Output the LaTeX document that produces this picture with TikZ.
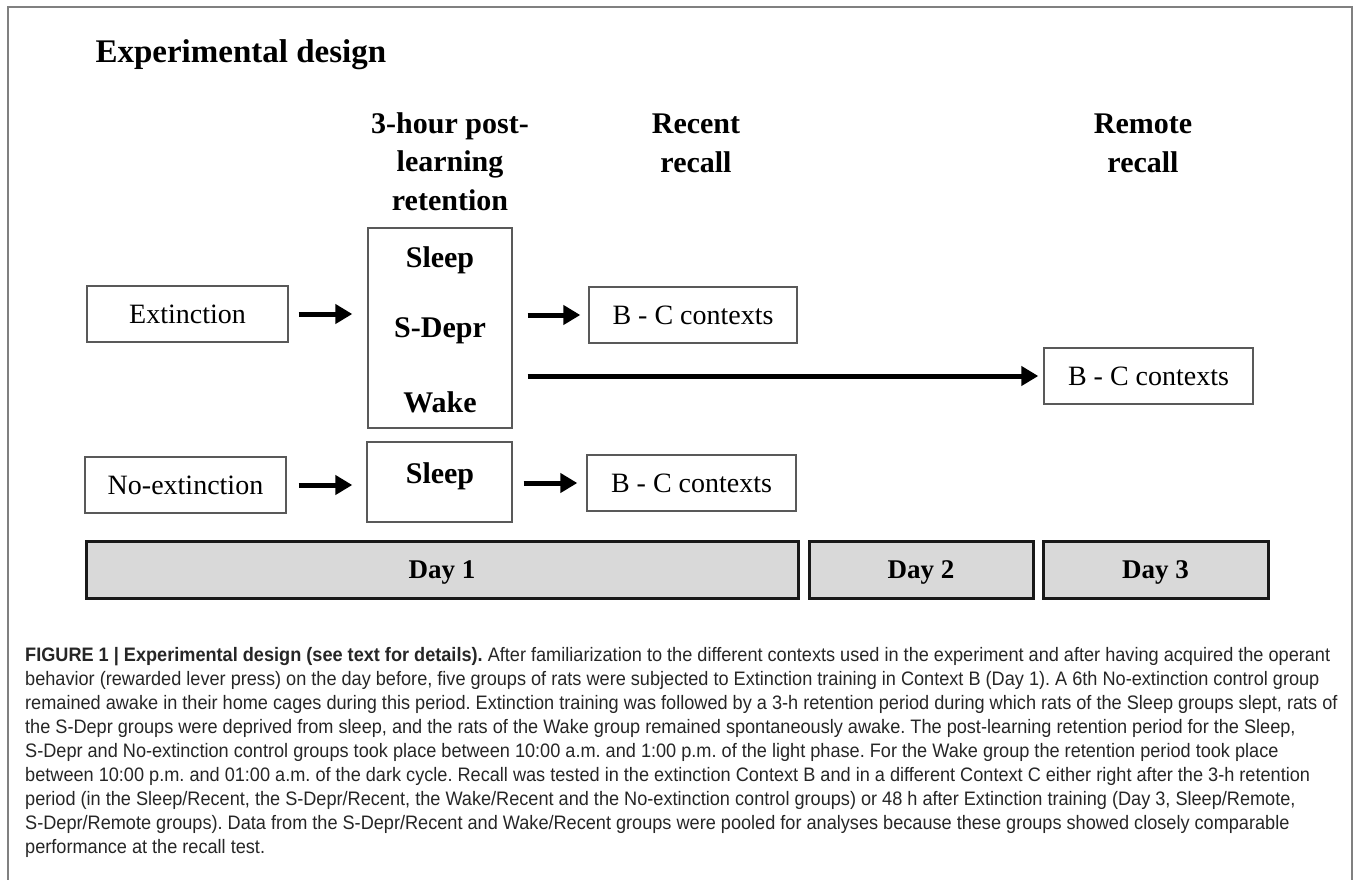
\documentclass[tikz,border=0pt]{standalone}
\usepackage{fontspec}
\setmainfont{Liberation Serif}
\newfontfamily\capfont[FakeStretch=0.93]{Liberation Sans}
\usetikzlibrary{arrows.meta}
\frenchspacing

\begin{document}
\begin{tikzpicture}[x=1pt, y=-1pt,
    every node/.style={font=\fontsize{28}{34}\selectfont},
    box/.style={rectangle, draw=black!65, line width=1.4pt, minimum height=56pt, inner sep=0pt},
    grp/.style={font=\fontsize{30}{36}\selectfont\bfseries, anchor=base},
    hdr/.style={font=\fontsize{30}{38.5}\selectfont\bfseries, align=center, anchor=base},
    day/.style={rectangle, draw=black!90, line width=3pt, fill=black!15, minimum height=57pt,
                text depth=0pt, font=\fontsize{27}{32}\selectfont\bfseries},
    e/.style={-{Triangle[length=17pt, width=19pt]}, line width=5pt},
  ]
  \useasboundingbox (0,0) rectangle (1354,879);
  \draw[black!50, line width=1.5pt] (8,885) -- (8,7) -- (1352,7) -- (1352,885);

  \node[font=\fontsize{33}{40}\selectfont\bfseries, anchor=base west] (title) at (92,62) {Experimental design};
  \node[hdr] (hret) at (450,210) {3-hour post-\\learning\\retention};
  \node[hdr] (hrec) at (696,172) {Recent\\recall};
  \node[hdr] (hrem) at (1143,172) {Remote\\recall};

  \node[box, minimum width=201pt] (ext) at (187.5,314) {Extinction};
  \node[box, minimum width=201pt] (noext) at (185.5,485) {No-extinction};
  \node[box, minimum width=144pt, minimum height=200pt] (ret) at (440,328) {};
  \node[grp] (sl) at (440,267) {Sleep};
  \node[grp] (sd) at (440,337) {S-Depr};
  \node[grp] (wk) at (440,412) {Wake};
  \node[box, minimum width=145pt, minimum height=80pt] (slp) at (439.5,482) {};
  \node[grp] (sl2) at (440,483) {Sleep};
  \node[box, minimum width=208pt] (rec) at (693,315) {B - C contexts};
  \node[box, minimum width=209pt] (rem) at (1148.5,376) {B - C contexts};
  \node[box, minimum width=209pt] (rec2) at (691.5,483) {B - C contexts};

  \node[day, minimum width=712pt] (d1) at (442,569.5) {Day 1};
  \node[day, minimum width=224pt] (d2) at (921,569.5) {Day 2};
  \node[day, minimum width=225pt] (d3) at (1155.5,569.5) {Day 3};

  \draw[e, shorten <=10pt, shorten >=15pt] (ext) -- (ext -| ret.west);
  \draw[e, shorten <=15pt, shorten >=8pt] (ret.east |- rec) -- (rec);
  \draw[e, shorten <=15pt, shorten >=5pt] (ret.east |- rem) -- (rem);
  \draw[e, shorten <=12pt, shorten >=14pt] (noext) -- (noext -| slp.west);
  \draw[e, shorten <=11pt, shorten >=9pt] (slp.east |- rec2) -- (rec2);

  \node[anchor=base west, align=left, inner sep=0pt, text=black!85,
        font=\capfont\fontsize{19.5}{23.9}\selectfont] (cap) at (25,853)
    {\textbf{FIGURE 1 | Experimental design (see text for details).} After familiarization to the different contexts used in the experiment and after having acquired the operant\\
     behavior (rewarded lever press) on the day before, five groups of rats were subjected to Extinction training in Context B (Day 1). A 6th No-extinction control group\\
     remained awake in their home cages during this period. Extinction training was followed by a 3-h retention period during which rats of the Sleep groups slept, rats of\\
     the S-Depr groups were deprived from sleep, and the rats of the Wake group remained spontaneously awake. The post-learning retention period for the Sleep,\\
     S-Depr and No-extinction control groups took place between 10:00 a.m. and 1:00 p.m. of the light phase. For the Wake group the retention period took place\\
     between 10:00 p.m. and 01:00 a.m. of the dark cycle. Recall was tested in the extinction Context B and in a different Context C either right after the 3-h retention\\
     period (in the Sleep/Recent, the S-Depr/Recent, the Wake/Recent and the No-extinction control groups) or 48 h after Extinction training (Day 3, Sleep/Remote,\\
     S-Depr/Remote groups). Data from the S-Depr/Recent and Wake/Recent groups were pooled for analyses because these groups showed closely comparable\\
     performance at the recall test.};
\end{tikzpicture}
\end{document}
